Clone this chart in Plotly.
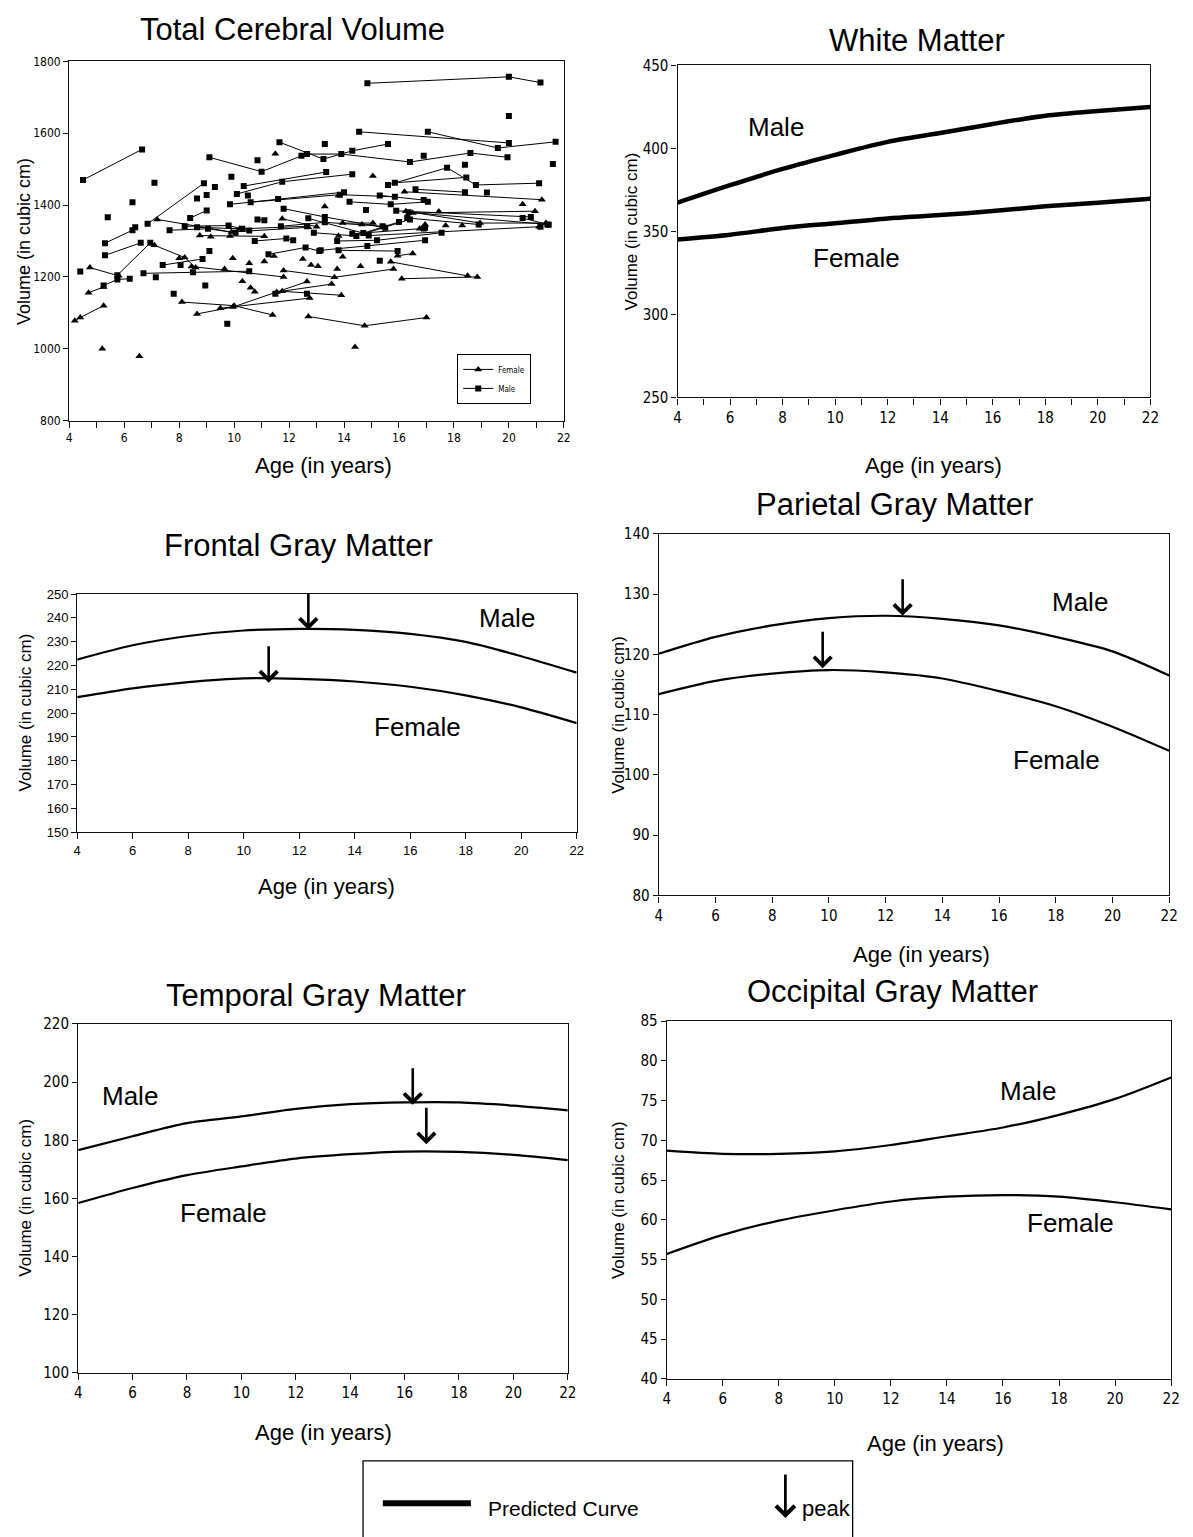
import plotly.graph_objects as go

W, H = 1193, 1537

# ---------------- data ----------------
male_subjects = [
    [[4.5, 1470], [6.65, 1555]],
    [[14.85, 1739], [20.0, 1757], [21.15, 1741]],
    [[20.0, 1648]],
    [[14.55, 1604], [20.0, 1573]],
    [[17.05, 1604], [19.6, 1559], [21.7, 1576]],
    [[21.6, 1514]],
    [[9.1, 1533], [11.0, 1493], [12.45, 1537]],
    [[11.65, 1575], [13.25, 1528], [14.3, 1551], [15.6, 1570]],
    [[12.65, 1542], [13.9, 1542], [16.4, 1520], [18.6, 1545], [19.95, 1533]],
    [[13.3, 1570]],
    [[10.85, 1525]],
    [[16.9, 1537]],
    [[6.85, 1348], [8.9, 1461]],
    [[5.3, 1294], [6.3, 1330], [6.4, 1338]],
    [[5.4, 1366]],
    [[7.1, 1462]],
    [[6.3, 1408]],
    [[8.65, 1418]],
    [[9.0, 1428]],
    [[9.3, 1450]],
    [[9.9, 1479]],
    [[10.35, 1453], [13.35, 1492]],
    [[10.1, 1431], [11.75, 1465], [14.3, 1486]],
    [[10.5, 1427]],
    [[8.4, 1364], [9.0, 1385]],
    [[9.85, 1402], [11.6, 1417], [14.0, 1436]],
    [[10.6, 1408], [13.85, 1429], [15.85, 1423]],
    [[14.2, 1409], [15.7, 1402], [17.05, 1409]],
    [[15.3, 1427], [16.9, 1414]],
    [[15.6, 1456], [17.75, 1504], [18.8, 1456], [21.1, 1461]],
    [[15.85, 1462], [18.45, 1477]],
    [[18.4, 1512]],
    [[16.6, 1444], [18.4, 1436]],
    [[19.2, 1435]],
    [[15.9, 1384], [20.8, 1367]],
    [[16.35, 1380], [21.4, 1346]],
    [[16.3, 1364], [18.9, 1346]],
    [[14.8, 1386]],
    [[4.4, 1215]],
    [[5.25, 1176], [5.75, 1193], [6.2, 1195]],
    [[5.3, 1260], [6.6, 1295]],
    [[5.75, 1205], [6.95, 1295]],
    [[6.7, 1210], [8.5, 1213], [10.55, 1216]],
    [[7.15, 1199]],
    [[7.4, 1233], [8.85, 1250]],
    [[8.05, 1233]],
    [[9.1, 1272]],
    [[7.65, 1330], [9.05, 1334], [10.05, 1323]],
    [[8.2, 1341], [9.8, 1343], [10.55, 1329]],
    [[8.65, 1338], [10.3, 1334], [12.65, 1341]],
    [[10.75, 1300], [11.9, 1307], [12.15, 1302]],
    [[10.85, 1360], [11.1, 1358]],
    [[11.7, 1341], [13.3, 1352], [15.4, 1341]],
    [[11.8, 1390], [13.3, 1367], [15.5, 1337]],
    [[12.7, 1363], [14.7, 1322], [16.0, 1353]],
    [[12.9, 1323], [14.45, 1314], [16.4, 1360]],
    [[13.15, 1274], [14.85, 1286], [16.95, 1302]],
    [[13.75, 1300], [15.2, 1302], [17.55, 1323]],
    [[13.8, 1274], [15.95, 1272]],
    [[11.25, 1263], [12.6, 1282], [13.1, 1272]],
    [[15.3, 1245]],
    [[16.95, 1337]],
    [[20.5, 1364], [21.45, 1345]],
    [[14.9, 1315], [21.15, 1340]],
    [[7.8, 1153]],
    [[8.95, 1176]],
    [[9.75, 1070]],
    [[11.5, 1153]],
    [[12.65, 1153]],
    [[14.3, 1320], [16.9, 1335]],
]

female_subjects = [
    [[4.2, 1078], [4.4, 1087], [5.25, 1120]],
    [[5.2, 1000]],
    [[6.55, 979]],
    [[14.4, 1005]],
    [[4.7, 1156], [5.25, 1172]],
    [[4.75, 1226], [5.8, 1203]],
    [[7.2, 1360], [9.9, 1325], [12.7, 1338]],
    [[7.1, 1288], [8.2, 1254], [8.6, 1226]],
    [[8.75, 1315], [11.1, 1313]],
    [[9.15, 1312]],
    [[8.45, 1229], [11.8, 1200]],
    [[9.65, 1222]],
    [[8.1, 1130], [10.0, 1120], [11.4, 1094]],
    [[8.65, 1097], [9.95, 1116], [12.65, 1187]],
    [[9.5, 1113], [12.75, 1141]],
    [[10.3, 1188]],
    [[10.6, 1170]],
    [[10.75, 1159]],
    [[11.55, 1158], [13.55, 1180]],
    [[11.75, 1160], [13.9, 1149]],
    [[12.7, 1090], [14.75, 1064], [17.0, 1087]],
    [[11.8, 1218], [13.65, 1199], [15.8, 1222]],
    [[12.5, 1250]],
    [[12.8, 1233]],
    [[13.05, 1230]],
    [[13.75, 1222]],
    [[13.95, 1256]],
    [[14.6, 1230]],
    [[15.7, 1242], [18.5, 1203]],
    [[16.1, 1195], [18.85, 1200]],
    [[15.95, 1259], [16.5, 1265]],
    [[13.3, 1396]],
    [[13.8, 1314]],
    [[13.95, 1350], [15.05, 1350]],
    [[14.65, 1346]],
    [[16.25, 1383], [18.95, 1350], [21.35, 1350]],
    [[16.5, 1378], [20.95, 1383]],
    [[16.2, 1437], [21.2, 1415]],
    [[20.5, 1402]],
    [[17.45, 1382]],
    [[17.7, 1343]],
    [[18.3, 1343]],
    [[16.75, 1334]],
    [[16.95, 1346]],
    [[21.1, 1340]],
    [[11.75, 1362], [13.0, 1340]],
    [[13.8, 1427]],
    [[15.05, 1481]],
    [[11.5, 1543]],
    [[9.85, 1314]],
    [[10.2, 1334]],
    [[11.1, 1243]],
    [[11.45, 1258]],
    [[10.55, 1238]],
    [[8.0, 1252]],
    [[9.95, 1252]],
]

curve_ages = [4, 6, 8, 10, 12, 14, 16, 18, 20, 22]
wm_male = [367.3, 377.8, 387.6, 396.1, 403.9, 409.2, 414.7, 419.6, 422.5, 424.9]
wm_female = [345.1, 348.0, 352.0, 354.9, 357.8, 359.8, 362.2, 365.1, 367.3, 369.6]
frontal_male = [222.5, 228.5, 232.4, 234.7, 235.4, 235.0, 233.3, 229.9, 223.9, 217.0]
frontal_female = [206.7, 210.4, 213.0, 214.6, 214.4, 213.3, 211.1, 207.5, 202.4, 195.8]
parietal_male = [120.1, 122.9, 124.8, 126.0, 126.4, 125.9, 124.8, 122.9, 120.5, 116.5]
parietal_female = [113.4, 115.6, 116.8, 117.4, 117.0, 116.0, 113.9, 111.4, 108.0, 104.0]
temporal_male = [176.6, 181.4, 185.9, 188.2, 190.8, 192.4, 193.0, 193.0, 191.9, 190.3]
temporal_female = [158.4, 163.6, 168.0, 171.0, 173.7, 175.2, 176.1, 176.0, 175.0, 173.2]
occipital_male = [68.7, 68.3, 68.3, 68.6, 69.4, 70.5, 71.6, 73.2, 75.2, 77.9]
occipital_female = [55.7, 58.1, 59.9, 61.2, 62.3, 62.9, 63.1, 62.9, 62.2, 61.3]

# peak arrows: (panel, age, tip value)
peak_panels = [3, 3, 4, 4, 5, 5]
peak_ages = [12.33, 10.9, 12.6, 9.78, 16.3, 16.8]
peak_values = [235.0, 212.8, 126.4, 117.7, 192.2, 178.6]

titles = ["Total Cerebral Volume", "White Matter", "Frontal Gray Matter",
          "Parietal Gray Matter", "Temporal Gray Matter", "Occipital Gray Matter"]
x_title = "Age (in years)"
y_title = "Volume (in cubic cm)"

# ---------------- layout geometry (pixels) ----------------
areas = {
    1: (66, 566, 53, 416.5),
    2: (681, 1159, 57, 393),
    3: (74, 579, 592, 833),
    4: (662, 1178, 531, 897),
    5: (75, 570, 1027, 1380),
    6: (670, 1180, 1024, 1386),
}
yranges = {1: (800, 1800), 2: (250, 450), 3: (150, 250), 4: (80, 140), 5: (100, 220), 6: (40, 85)}
ydticks = {1: 200, 2: 50, 3: 10, 4: 10, 5: 20, 6: 5}
title_pos = {1: (292, 21), 2: (923, 32), 3: (298, 543), 4: (900, 501), 5: (315, 998), 6: (898, 994)}
xtitle_pos = {1: (323, 462), 2: (940, 462), 3: (326, 888), 4: (928, 957), 5: (323, 1440), 6: (942, 1451)}
ytitle_pos = {1: (20, 235), 2: (634, 225), 3: (22, 712), 4: (621, 714), 5: (22, 1203), 6: (622, 1205)}
label_pos = {
    2: [("Male", 780, 119), ("Female", 862, 252)],
    3: [("Male", 509, 616), ("Female", 418, 727)],
    4: [("Male", 1088, 600), ("Female", 1064, 760)],
    5: [("Male", 127, 1100), ("Female", 222, 1218)],
    6: [("Male", 1035, 1095), ("Female", 1078, 1228)],
}


def px(x):
    return x / W


def py(y):
    return 1 - y / H


FONT = "Liberation Sans, Arial, Helvetica, sans-serif"
NARROW = "Liberation Sans Narrow, Arial Narrow, DejaVu Sans Condensed, sans-serif"

fig = go.Figure()


def ax_names(i):
    return ("x" if i == 1 else f"x{i}", "y" if i == 1 else f"y{i}")


def flatten(subjects):
    xs, ys = [], []
    for s in subjects:
        for a, v in s:
            xs.append(a)
            ys.append(v)
        xs.append(None)
        ys.append(None)
    return xs, ys


fx, fy = flatten(female_subjects)
mx, my = flatten(male_subjects)
fig.add_trace(go.Scatter(x=fx, y=fy, mode="lines+markers", name="Female",
                         line=dict(color="black", width=1),
                         marker=dict(symbol="triangle-up", size=7, color="black"),
                         xaxis="x", yaxis="y", connectgaps=False))
fig.add_trace(go.Scatter(x=mx, y=my, mode="lines+markers", name="Male",
                         line=dict(color="black", width=1),
                         marker=dict(symbol="square", size=6, color="black"),
                         xaxis="x", yaxis="y", connectgaps=False))

curves = {
    2: (wm_male, wm_female, 4.5),
    3: (frontal_male, frontal_female, 2.2),
    4: (parietal_male, parietal_female, 2.2),
    5: (temporal_male, temporal_female, 2.2),
    6: (occipital_male, occipital_female, 2.2),
}
for i, (m, f, w) in curves.items():
    xa, ya = ax_names(i)
    for vals in (m, f):
        fig.add_trace(go.Scatter(x=curve_ages, y=vals, mode="lines", showlegend=False,
                                 line=dict(color="black", width=w, shape="spline", smoothing=0.8),
                                 xaxis=xa, yaxis=ya, hoverinfo="skip"))

layout = dict(width=W, height=H, margin=dict(l=0, r=0, t=0, b=0),
              paper_bgcolor="white", plot_bgcolor="white", showlegend=True)

tick_fonts = {1: (NARROW, 12), 2: (NARROW, 15), 3: (FONT, 13), 4: (NARROW, 15), 5: (NARROW, 15), 6: (NARROW, 15)}

for i in range(1, 7):
    l, r, t, b = areas[i]
    key = "" if i == 1 else str(i)
    xa, ya = ax_names(i)
    tf, ts = tick_fonts[i]
    xaxis = dict(domain=[px(l), px(r)], range=[4, 22], tick0=4, dtick=2, anchor=ya,
                 showgrid=False, zeroline=False, showline=True, linecolor="#111", linewidth=1.3,
                 mirror=True, ticks="outside", ticklen=6, tickwidth=1.2, tickcolor="#111",
                 tickfont=dict(family=tf, size=ts, color="black"), fixedrange=True)
    if i in (1, 2):
        xaxis["minor"] = dict(dtick=1, tick0=4, ticks="outside", ticklen=6, tickcolor="#111", tickwidth=1.2)
    yaxis = dict(domain=[py(b), py(t)], range=list(yranges[i]), dtick=ydticks[i], anchor=xa,
                 showgrid=False, zeroline=False, showline=True, linecolor="#111", linewidth=1.3,
                 mirror=True, ticks="outside", ticklen=5, tickwidth=1.2, tickcolor="#111",
                 tickfont=dict(family=tf, size=ts, color="black"), fixedrange=True)
    layout["xaxis" + key] = xaxis
    layout["yaxis" + key] = yaxis

annotations = []
for i in range(1, 7):
    tx, ty = title_pos[i]
    annotations.append(dict(text=titles[i - 1], x=px(tx), y=py(ty), xref="paper", yref="paper",
                            showarrow=False, xanchor="center", yanchor="middle",
                            font=dict(family=FONT, size=31, color="black")))
    ax_, ay_ = xtitle_pos[i]
    annotations.append(dict(text=x_title, x=px(ax_), y=py(ay_), xref="paper", yref="paper",
                            showarrow=False, xanchor="center", yanchor="middle",
                            font=dict(family=FONT, size=22, color="black")))
    yx, yy = ytitle_pos[i]
    annotations.append(dict(text=y_title, x=px(yx), y=py(yy), xref="paper", yref="paper",
                            showarrow=False, xanchor="center", yanchor="middle", textangle=-90,
                            font=dict(family=FONT, size=18 if i == 1 else 17, color="black")))
for i, labs in label_pos.items():
    for txt, lx, ly in labs:
        annotations.append(dict(text=txt, x=px(lx), y=py(ly), xref="paper", yref="paper",
                                showarrow=False, xanchor="center", yanchor="middle",
                                font=dict(family=FONT, size=26, color="black")))

for p, a, v in zip(peak_panels, peak_ages, peak_values):
    xa, ya = ax_names(p)
    annotations.append(dict(x=a, y=v, xref=xa, yref=ya, text="", showarrow=True,
                            ax=0, ay=-38, arrowhead=4, arrowsize=1.3, arrowwidth=2.6,
                            arrowcolor="black", standoff=0))

# bottom key
annotations.append(dict(text="Predicted Curve", x=px(487), y=py(1517), xref="paper", yref="paper",
                        showarrow=False, xanchor="left", yanchor="middle",
                        font=dict(family=FONT, size=21, color="black")))
annotations.append(dict(text="peak", x=px(805), y=py(1517), xref="paper", yref="paper",
                        showarrow=False, xanchor="left", yanchor="middle",
                        font=dict(family=FONT, size=22, color="black")))
annotations.append(dict(x=px(790), y=py(1527), xref="paper", yref="paper", text="",
                        showarrow=True, ax=0, ay=-45, arrowhead=4, arrowsize=1.3, arrowwidth=2.8,
                        arrowcolor="black", standoff=0))

shapes = [
    dict(type="rect", xref="paper", yref="paper", x0=px(363), x1=px(858), y0=-0.01, y1=py(1469),
         line=dict(color="black", width=1.3), fillcolor="rgba(0,0,0,0)"),
    dict(type="line", xref="paper", yref="paper", x0=px(383), x1=px(472), y0=py(1512), y1=py(1512),
         line=dict(color="black", width=6)),
]

layout["annotations"] = annotations
layout["shapes"] = shapes
layout["legend"] = dict(x=px(533), y=py(349), xanchor="right", yanchor="top",
                        bordercolor="black", borderwidth=1, bgcolor="white",
                        font=dict(family=NARROW, size=8, color="black"),
                        itemwidth=30, tracegroupgap=0)

fig.update_layout(**layout)
fig.write_html("out.html")
